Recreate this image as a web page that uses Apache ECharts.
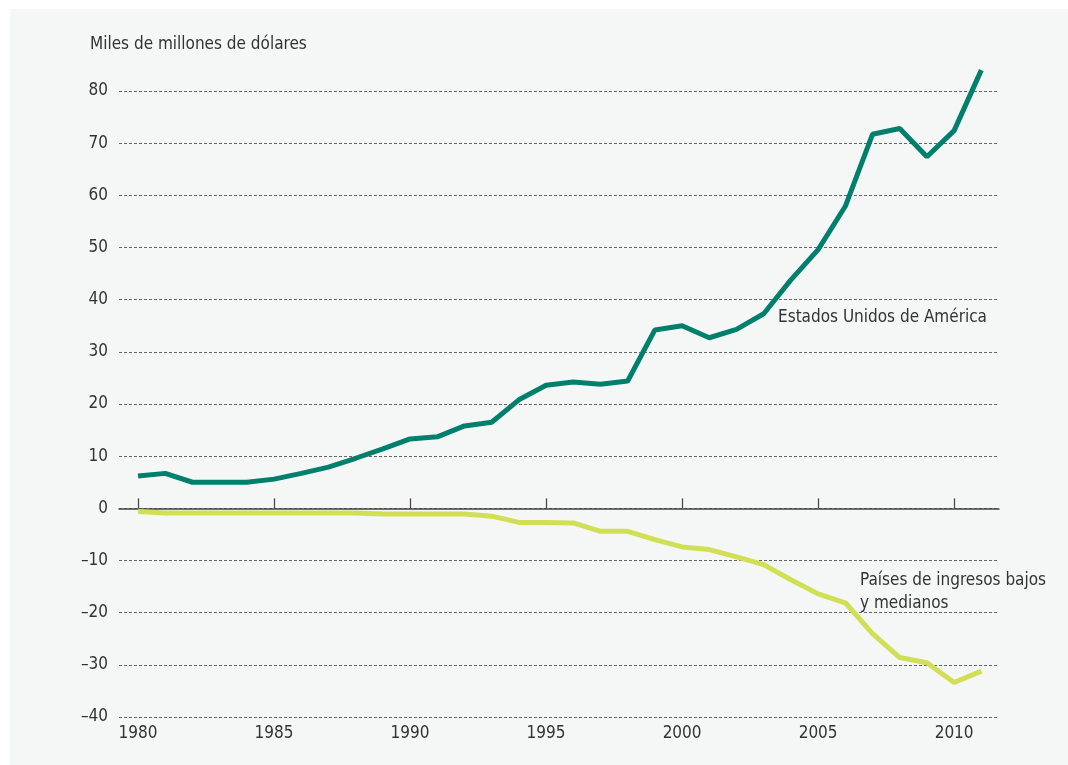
<!DOCTYPE html>
<html>
<head>
<meta charset="utf-8">
<title>Flujos</title>
<script src="https://cdn.jsdelivr.net/npm/echarts@6/dist/echarts.min.js"></script>
<style>
  html, body { margin: 0; padding: 0; background: #ffffff; }
  #chart { width: 1068px; height: 765px; }
</style>
</head>
<body>
<div id="chart"></div>
<script>
// datos (miles de millones de dolares)
const years = [1980, 1981, 1982, 1983, 1984, 1985, 1986, 1987, 1988, 1989,
  1990, 1991, 1992, 1993, 1994, 1995, 1996, 1997, 1998, 1999,
  2000, 2001, 2002, 2003, 2004, 2005, 2006, 2007, 2008, 2009, 2010, 2011]
const usa = [6.2, 6.7, 5.0, 5.0, 5.0, 5.6, 6.7, 7.9, 9.6, 11.4,
  13.3, 13.7, 15.8, 16.5, 20.8, 23.6, 24.2, 23.8, 24.4, 34.2,
  35.0, 32.7, 34.3, 37.3, 43.8, 49.6, 57.9, 71.7, 72.8, 67.4, 72.4, 84.0]
const lowMid = [-0.6, -0.9, -0.9, -0.9, -0.9, -0.9, -0.9, -0.9, -0.9, -1.1,
  -1.1, -1.1, -1.1, -1.5, -2.7, -2.7, -2.8, -4.4, -4.4, -6.0,
  -7.4, -7.9, -9.3, -10.8, -13.7, -16.4, -18.1, -24.0, -28.6, -29.6, -33.4, -31.2]
const yearTicks = [1980, 1985, 1990, 1995, 2000, 2005, 2010]

const font = "'Liberation Sans Narrow', 'DejaVu Sans Condensed', 'Roboto', sans-serif"
const textColor = '#333333'

const chart = echarts.init(document.getElementById('chart'))

const pairs = (vals) => years.map((y, i) => [y, vals[i]])

const option = {
  backgroundColor: '#ffffff',
  animation: false,
  textStyle: { fontFamily: font },
  graphic: [
    {
      type: 'rect',
      z: -10,
      shape: { x: 10, y: 9, width: 1058, height: 756 },
      style: { fill: '#f5f7f6' }
    },
    {
      type: 'text',
      left: 90, top: 36,
      style: { text: 'Miles de millones de dólares', font: '17px ' + font, fill: textColor }
    },
    {
      type: 'text',
      left: 778, top: 309,
      style: { text: 'Estados Unidos de América', font: '17px ' + font, fill: textColor }
    },
    {
      type: 'text',
      left: 860, top: 569,
      style: { text: 'Países de ingresos bajos\ny medianos', font: '17px ' + font, fill: textColor, lineHeight: 23 }
    }
  ],
  grid: { left: 119, right: 69, top: 91, bottom: 48, containLabel: false },
  xAxis: [
    {
      type: 'value',
      min: 1979.3,
      max: 2011.65,
      axisLine: { onZero: true, lineStyle: { color: '#444444', width: 1.5 } },
      axisTick: { show: true, inside: true, length: 10, customValues: yearTicks, lineStyle: { color: '#444444', width: 1.2 } },
      axisLabel: { show: false },
      splitLine: { show: false }
    },
    {
      type: 'value',
      position: 'bottom',
      min: 1979.3,
      max: 2011.65,
      axisLine: { show: false, onZero: false },
      axisTick: { show: false },
      axisLabel: {
        show: true, customValues: yearTicks, margin: 8,
        fontSize: 17, color: textColor, fontFamily: font,
        formatter: (v) => String(v)
      },
      splitLine: { show: false }
    }
  ],
  yAxis: {
    type: 'value',
    min: -40,
    max: 80,
    interval: 10,
    axisLine: { show: false },
    axisTick: { show: false },
    axisLabel: {
      margin: 11, fontSize: 17, color: textColor, fontFamily: font,
      formatter: (v) => (v < 0 ? '\u2013' + Math.abs(v) : String(v))
    },
    splitLine: {
      show: true,
      lineStyle: { color: '#666666', width: 1, type: [3, 2] }
    }
  },
  series: [
    {
      name: 'Estados Unidos de América',
      type: 'line',
      xAxisIndex: 0,
      data: pairs(usa),
      showSymbol: false,
      clip: false,
      lineStyle: { color: '#00806c', width: 5 },
      itemStyle: { color: '#00806c' },
      z: 3
    },
    {
      name: 'Países de ingresos bajos y medianos',
      type: 'line',
      xAxisIndex: 0,
      data: pairs(lowMid),
      showSymbol: false,
      clip: false,
      lineStyle: { color: '#d1df54', width: 5 },
      itemStyle: { color: '#d1df54' },
      z: 2
    }
  ]
}

chart.setOption(option)
</script>
</body>
</html>
